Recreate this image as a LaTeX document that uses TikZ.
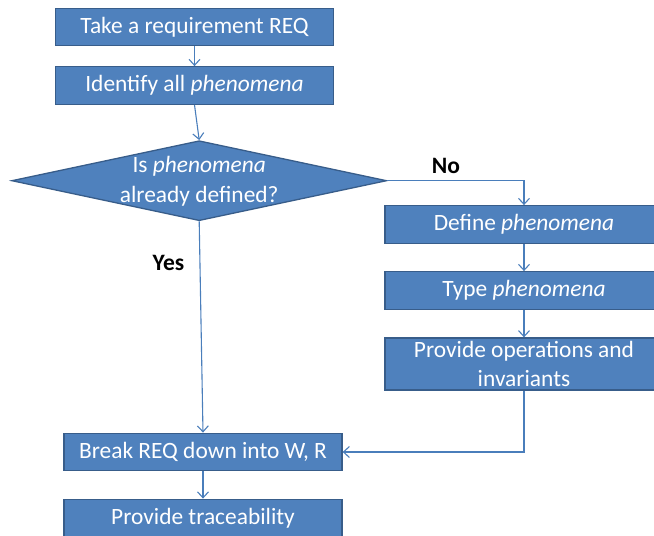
\documentclass[tikz,border=0pt]{standalone}
\usepackage{fontspec}
\setmainfont{Carlito}
\usetikzlibrary{shapes.geometric,arrows.meta}
\definecolor{boxfill}{HTML}{4F81BD}
\definecolor{boxline}{HTML}{385D8A}
\definecolor{conncol}{HTML}{4A7EBB}
\begin{document}
\begin{tikzpicture}[x=1pt,y=-1pt,
  stepbox/.style={draw=boxline, line width=1.3pt, fill=boxfill, text=white,
    font=\fontsize{23.4}{28.5}\selectfont, inner sep=0pt, align=center,
    minimum width=278pt, minimum height=37.5pt},
  decision/.style={diamond, draw=boxline, line width=1.3pt, fill=boxfill,
    inner sep=0pt, minimum width=375pt, minimum height=80pt, aspect=4.69},
  dectext/.style={text=white, font=\fontsize{23.4}{30}\selectfont, align=center, inner sep=0pt},
  conn/.style={draw=conncol, line width=1.1pt, -{Straight Barb[length=6pt,width=11pt]}},
  lbl/.style={text=black, font=\bfseries\fontsize{23.5}{28}\selectfont, inner sep=0pt}]
\clip (0,0) rectangle (654,536);
\node[stepbox] (take) at (194.5,27) {Take a requirement REQ};
\node[stepbox] (ident) at (194.5,85.5) {Identify all \textit{phenomena}};
\node[decision] (dec) at (199.2,180.7) {};
\node[dectext] (dect) at (199.2,181.5) {Is \textit{phenomena}\\already defined?};
\node[stepbox] (def) at (524,224.5) {Define \textit{phenomena}};
\node[stepbox] (typ) at (524,290.5) {Type \textit{phenomena}};
\node[stepbox, minimum height=52pt] (ops) at (524,364) {Provide operations and\\invariants};
\node[stepbox] (brk) at (203,452) {Break REQ down into W, R};
\node[stepbox] (trc) at (203,518) {Provide traceability};
\node[lbl] (no) at (446,166) {No};
\node[lbl] (yes) at (168.5,263) {Yes};
\draw[conn] (take.south) -- (ident.north);
\draw[conn] (ident.south) -- (dec.north);
\draw[conn] (dec.east) -| (def.north);
\draw[conn] (def.south) -- (typ.north);
\draw[conn] (typ.south) -- (ops.north);
\draw[conn] (ops.south) |- (brk.east);
\draw[conn] (dec.south) -- (brk.north);
\draw[conn] (brk.south) -- (trc.north);
\end{tikzpicture}
\end{document}
